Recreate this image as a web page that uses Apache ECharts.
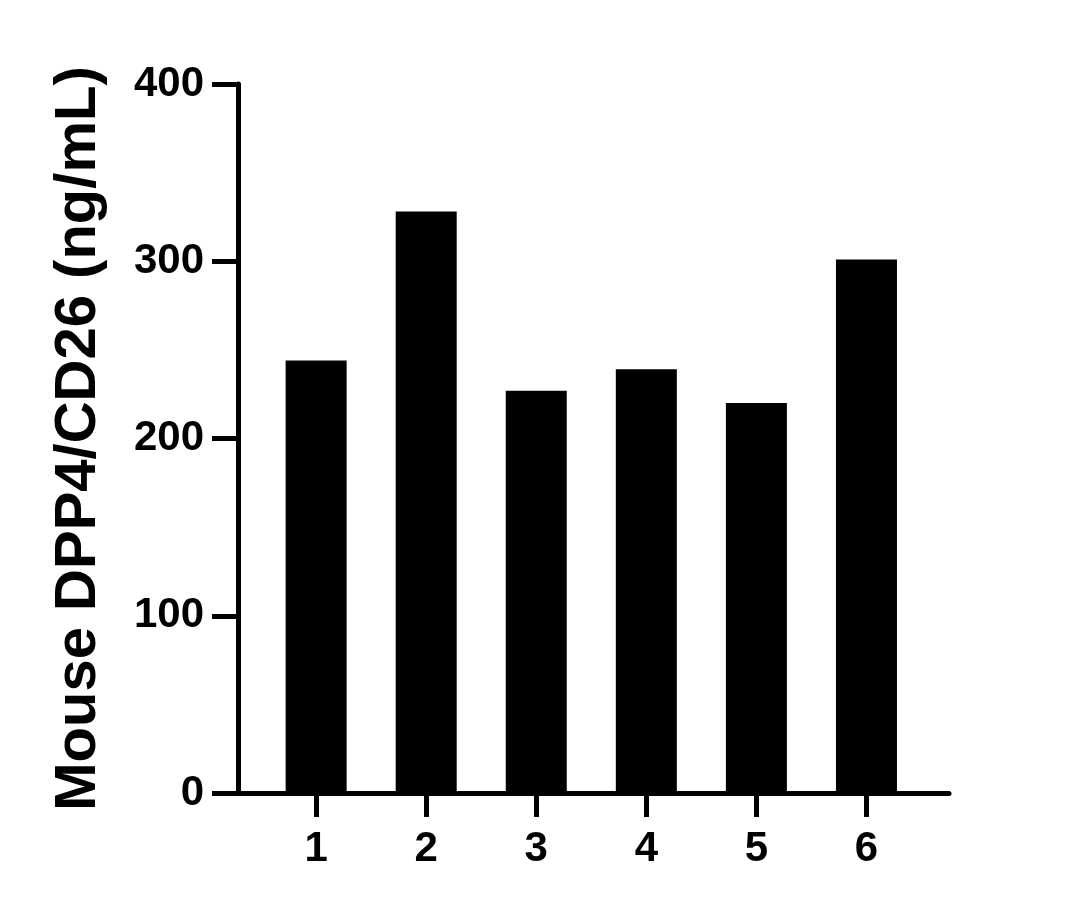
<!DOCTYPE html>
<html>
<head>
<meta charset="utf-8">
<script src="https://cdn.jsdelivr.net/npm/echarts@6/dist/echarts.min.js"></script>
<style>
    html, body { margin: 0; padding: 0; background: #fff; }
    #main { width: 1080px; height: 910px; }
</style>
</head>
<body>
<div id="main"></div>
<script>
// sample numbers on the x axis
let samples = [1, 2, 3, 4, 5, 6];
// Mouse DPP4/CD26 concentration, ng/mL
let concentrations = [244, 328, 227, 239, 220, 301];
let yTicks = [0, 100, 200, 300, 400];
let yTitle = "Mouse DPP4/CD26 (ng/mL)";

let myChart = echarts.init(document.getElementById("main"));

let font = "'Liberation Sans', Arial, sans-serif";
let lineW = 5;

let option = {
    animation: false,
    grid: { left: 238, right: 131, top: 84, bottom: 117 },
    xAxis: {
        type: "value",
        min: 0.29,
        max: 6.75,
        splitLine: { show: false },
        axisLine: { lineStyle: { color: "#000", width: lineW } },
        axisTick: {
            customValues: samples,
            length: 24,
            lineStyle: { color: "#000", width: lineW }
        },
        axisLabel: {
            customValues: samples,
            margin: 35,
            color: "#000",
            fontFamily: font,
            fontWeight: "bold",
            fontSize: 42
        }
    },
    yAxis: {
        type: "value",
        min: yTicks[0],
        max: yTicks[yTicks.length - 1],
        interval: 100,
        name: yTitle,
        nameLocation: "middle",
        nameGap: 130,
        nameTextStyle: {
            color: "#000",
            fontFamily: font,
            fontWeight: "bold",
            fontSize: 58
        },
        splitLine: { show: false },
        axisLine: { show: true, lineStyle: { color: "#000", width: lineW } },
        axisTick: { show: true, length: 26, lineStyle: { color: "#000", width: lineW } },
        axisLabel: {
            margin: 34,
            color: "#000",
            fontFamily: font,
            fontWeight: "bold",
            fontSize: 42
        }
    },
    series: [
        {
            type: "bar",
            barWidth: 61,
            itemStyle: { color: "#000" },
            data: samples.map((s, i) => [s, concentrations[i]])
        }
    ]
};

myChart.setOption(option);
</script>
</body>
</html>
